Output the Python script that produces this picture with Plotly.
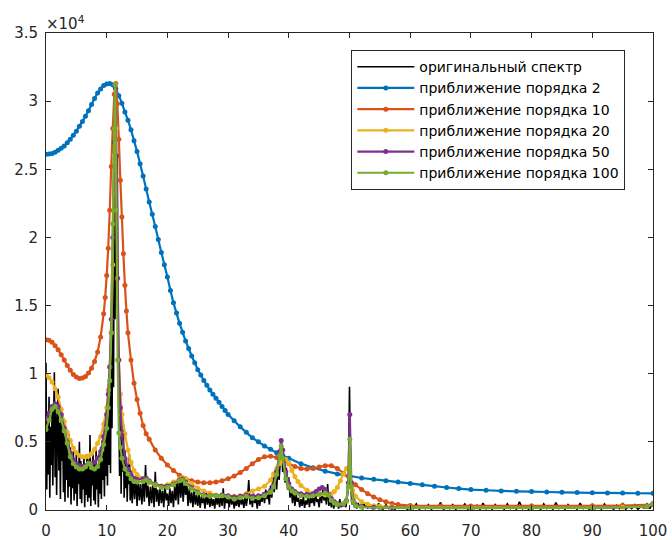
import plotly.graph_objects as go

# ---------------- data ----------------
# original spectrum: step 0.125 on [0, 14), step 0.2 on [14, 55], step 0.5 on (55, 100]
spec_x = ([i * 0.125 for i in range(112)] + [14 + 0.2 * i for i in range(206)]
          + [55.5 + 0.5 * i for i in range(90)])
spec_y = [
    # 0 .. 14, step 0.125
    10800, 1500, 7200, 2600, 8300, 900, 6100, 3300,
    7400, 1800, 6600, 10100, 2400, 7900, 1100, 5800,
    8900, 2900, 6400, 800, 7300, 3600, 5900, 1300,
    6200, 600, 5400, 2200, 4900, 900, 5600, 1700,
    4600, 400, 3800, 1600, 4300, 700, 3500, 1200,
    4100, 300, 3300, 1900, 5000, 800, 3600, 500,
    3200, 1500, 3900, 200, 3400, 1100, 4100, 600,
    3700, 900, 5500, 300, 3100, 1800, 4200, 700,
    3500, 400, 4500, 1500, 3300, 200, 4000, 1200,
    4600, 800, 5100, 2200, 4300, 1000, 5900, 2500,
    6400, 1800, 7800, 3300, 9600, 2700, 12500, 6000,
    15000, 9000, 23000, 14000, 31200, 20000, 26000, 12000,
    7000, 2500, 8200, 1200, 5600, 2800, 6300, 900,
    4400, 1600, 3800, 600, 3300, 1900, 4100, 700,
    # 14 .. 55, step 0.2
    2900, 500, 2400, 800, 2600,
    300, 2200, 700, 1900, 400,
    2100, 600, 3300, 900, 1800,
    300, 1700, 500, 2000, 200,
    2800, 600, 1500, 300, 1700,
    500, 1400, 200, 1900, 700,
    1200, 300, 1600, 500, 1400,
    200, 1800, 700, 2200, 400,
    2500, 900, 2300, 600, 2100,
    1100, 2000, 300, 1600, 500,
    1300, 200, 1500, 400, 1100,
    300, 1200, 150, 1000, 500,
    900, 100, 1300, 400, 1100,
    200, 1000, 300, 800, 100,
    1100, 400, 900, 200, 1200,
    300, 1600, 100, 1000, 500,
    800, 200, 1100, 400, 900,
    100, 700, 300, 1000, 200,
    1000, 400, 800, 150, 1100,
    300, 900, 2200, 400, 1000,
    200, 1200, 500, 900, 100,
    1100, 300, 1000, 600, 1300,
    500, 1500, 800, 1200, 400,
    1800, 900, 2400, 1300, 2600,
    1500, 3200, 2200, 3600, 4700,
    2800, 3500, 2000, 3100, 1500,
    2400, 900, 1700, 500, 1400,
    300, 1100, 600, 900, 200,
    800, 300, 1000, 150, 700,
    400, 1100, 200, 900, 500,
    1000, 300, 1200, 600, 800,
    200, 1300, 500, 1500, 700,
    1100, 400, 1900, 300, 900,
    200, 700, 100, 600, 300,
    500, 100, 800, 200, 400,
    300, 700, 200, 900, 1500,
    9050, 1800, 400, 900, 200,
    600, 100, 500, 300, 150,
    400, 50, 550, 200, 300,
    100, 450, 150, 350, 50,
    400, 100, 300, 200, 500,
    250,
    # 55.5 .. 100, step 0.5
    50, 400, 100, 300, 50, 500, 150, 350, 50, 300,
    100, 450, 50, 250, 100, 400, 50, 300, 150, 550,
    50, 300, 100, 400, 50, 250, 150, 450, 50, 300,
    100, 350, 50, 500, 100, 300, 50, 400, 150, 250,
    50, 450, 100, 300, 50, 600, 100, 300, 50, 400,
    150, 250, 50, 450, 100, 300, 50, 550, 100, 250,
    50, 400, 150, 300, 50, 500, 100, 250, 50, 400,
    100, 300, 50, 450, 150, 250, 50, 350, 100, 500,
    50, 300, 100, 400, 50, 250, 150, 450, 100, 600,
]

ord2_x = [0, 0.5, 1, 1.5, 2, 2.5, 3, 3.5, 4, 4.5, 5, 5.5, 6, 6.5, 7, 7.5, 8, 8.5, 9, 9.5,
          10, 10.5, 11, 11.5, 12, 12.5, 13, 13.5, 14, 14.5, 15, 15.5, 16, 16.5, 17, 17.5,
          18, 18.5, 19, 19.5, 20, 20.5, 21, 21.5, 22, 22.5, 23, 23.5, 24, 24.5, 25, 25.5,
          26, 26.5, 27, 27.5, 28, 28.5, 29, 29.5, 30,
          31, 32, 33, 34, 35, 36, 37, 38, 39, 40, 42, 44, 46, 48, 50, 52, 54, 56, 58, 60,
          62, 64, 66, 68, 70, 72.5, 75, 77.5, 80, 82.5, 85, 87.5, 90, 92.5, 95, 97.5, 100]
ord2_y = [26100, 26120, 26150, 26250, 26400, 26550, 26700, 26950, 27200, 27500, 27800,
          28150, 28500, 28900, 29300, 29750, 30200, 30600, 30900, 31150,
          31250, 31300, 31200, 30900, 30400, 29850, 29200, 28600, 27900, 27100, 26300,
          25400, 24500, 23550, 22600, 21700,
          20800, 19850, 18900, 18000, 17100, 16100, 15200, 14450, 13700, 13050, 12400,
          11850, 11300, 10800, 10300, 9900,
          9500, 9150, 8800, 8500, 8200, 7900, 7600, 7300, 7000,
          6550, 6100, 5700, 5300, 5000, 4700, 4450, 4200, 4000, 3800, 3400, 3100, 2850,
          2650, 2500, 2350, 2250, 2150, 2050, 1950,
          1850, 1750, 1650, 1570, 1500, 1450, 1400, 1370, 1350, 1320, 1300, 1280, 1260,
          1250, 1240, 1230, 1220]

ord10_x = [0, 0.5, 1, 1.5, 2, 2.5, 3, 3.5, 4, 4.5, 5, 5.5, 6, 6.5, 7, 7.5, 8, 8.5, 9, 9.5,
           9.75, 10, 10.25, 10.5, 10.75, 11, 11.25, 11.5, 11.75, 12, 12.25, 12.5, 12.75,
           13, 13.25, 13.5, 14, 14.5, 15, 15.5, 16, 16.5, 17, 18, 19, 20, 21, 22, 23, 24,
           25, 26, 27, 28, 29, 30, 31, 32, 33, 34, 35, 36, 37, 38, 39, 40, 41, 42, 43, 44,
           45, 46, 47, 48, 49, 50, 51, 52, 53, 54, 55, 56, 57, 58, 60, 65, 70, 80, 90, 95, 100]
ord10_y = [12500, 12450, 12300, 12050, 11750, 11400, 11000, 10600, 10250, 9950, 9750, 9650,
           9680, 9800, 10050, 10400, 10900, 11600, 12700, 14400,
           15600, 17200, 19200, 22000, 25200, 28000, 30500, 31300, 29800, 27200, 24200,
           21500, 18800, 16500, 14600, 13000,
           11000, 9300, 8100, 7100, 6200, 5600,
           5200, 4400, 3800, 3300, 2900, 2550, 2300, 2150, 2050, 2000, 2000, 2050, 2150,
           2300, 2500, 2750, 3050, 3400, 3700, 3900, 3950, 3850, 3650, 3400, 3200, 3050,
           3000, 3050, 3150, 3250, 3250, 3050, 2700, 2250, 1850, 1500, 1200, 950, 750, 600,
           480, 400,
           330, 300, 300, 300, 310, 330, 400]

ord20_x = [0, 0.5, 1, 1.5, 2, 2.5, 3, 3.5, 4, 4.5, 5, 5.5, 6, 6.5, 7, 7.5, 8, 8.5, 9, 9.5, 10,
           10.25, 10.5, 10.75, 11, 11.25, 11.4, 11.55, 11.75, 12, 12.25, 12.5,
           13, 13.5, 14, 14.5, 15, 16, 17, 18, 19, 20, 21, 22, 22.5, 23, 24, 25, 26, 27, 28,
           29, 30, 31, 32, 33, 34, 35, 36, 37, 37.5, 38, 38.5, 39, 39.5, 40, 40.5, 41, 41.5,
           42, 43, 44, 45, 46, 47, 47.5, 48, 48.5, 49, 49.5, 49.75, 50, 50.25, 50.5,
           51, 52, 53, 54, 55, 57, 60, 70, 80, 90, 95, 99, 100]
ord20_y = [9900, 9700, 9400, 8900, 8300, 7400, 6500, 5700, 5100, 4550, 4200, 4000, 3900,
           3900, 3950, 4150, 4450, 4900, 5400, 6300, 7500,
           8800, 10500, 13000, 18000, 26000, 31200, 28000, 17000, 11000, 8500, 7000,
           5600, 4400, 3500, 2900, 2600,
           2300, 2000, 1800, 1750, 1850, 2050, 2300, 2380,
           2300, 1950, 1600, 1400, 1250, 1100, 1050, 1000, 1000, 1050, 1200, 1400, 1550,
           1750, 2200,
           2650, 3050, 3400, 3650, 3700, 3450, 2900, 2450, 2100, 1800,
           1450, 1200, 1100, 1100, 1200,
           1350, 1650, 2150, 2650, 3050, 3000, 2700, 2000, 1450,
           1000, 600, 420, 320, 270,
           230, 200, 180, 180, 190, 200, 250, 450]

ord50_x = [0, 0.5, 1, 1.5, 2, 2.5, 3, 3.5, 4, 4.5, 5, 5.5, 6, 6.5, 7, 7.5, 8, 8.5, 9, 9.5, 10,
           10.25, 10.5, 10.75, 11, 11.25, 11.4, 11.6, 11.8, 12, 12.25, 12.5,
           13, 13.5, 14, 15, 16, 16.5, 17, 18, 19, 20, 21, 22, 22.5,
           23, 24, 25, 26, 27, 28, 29, 30, 31, 32, 33, 34, 35, 36, 37,
           37.5, 38, 38.5, 38.75, 39, 39.5, 40, 40.5, 41, 42, 43, 44,
           44.5, 45, 45.5, 46, 46.5, 47, 47.5, 48, 48.5, 49, 49.5, 49.8, 50.05, 50.3, 50.6, 51,
           52, 54, 57, 60, 70, 80, 90, 99, 100]
ord50_y = [6700, 7100, 7600, 7800, 7600, 7000, 6000, 5000, 4200, 3700, 3400, 3250, 3200,
           3250, 3350, 3400, 3500, 3800, 4300, 5400, 7000,
           8500, 10500, 14000, 20000, 27000, 31000, 26000, 17000, 11000, 7500, 5500,
           3800, 3000, 2600, 2250, 2300, 2350, 2150, 1900, 1750, 1750, 1900, 2200, 2280,
           2050, 1650, 1300, 1100, 1050, 1050, 1100, 1050, 950, 1000, 1100, 1000, 1050,
           1150, 1450,
           1850, 2800, 4300, 5100, 4400, 2800, 1950, 1550, 1350, 1200, 1150, 1200,
           1350, 1550, 1650, 1500, 1150, 850, 600, 450, 400, 400, 700, 2000, 7000, 2000,
           700, 400,
           250, 200, 170, 150, 140, 150, 160, 250, 450]

ord100_x = [0, 0.5, 1, 1.5, 2, 2.5, 3, 3.5, 4, 4.5, 5, 5.5, 6, 6.5, 7, 7.25, 7.5, 8, 8.5, 9,
            9.5, 10, 10.25, 10.5, 10.75, 11, 11.25, 11.4, 11.6, 11.8, 12, 12.25, 12.5,
            13, 13.5, 14, 14.5, 15, 16, 16.5, 17, 18, 19, 20, 21, 22, 22.5,
            23, 24, 25, 26, 27, 28, 29, 30, 31, 32, 33, 34, 35, 36, 37,
            37.5, 38, 38.5, 38.75, 39, 39.5, 40, 40.5, 41, 42, 43, 44, 45, 46,
            46.5, 47, 47.5, 48, 49, 49.5, 49.8, 50.05, 50.3, 50.6, 51,
            52, 55, 60, 70, 80, 90, 99, 100]
ord100_y = [5900, 6600, 7400, 7600, 7200, 6600, 5800, 4900, 3900, 3400, 3150, 3000, 3000,
            3150, 3450, 3350, 3100, 3000, 3200, 3700, 4800, 6000,
            7500, 9500, 13000, 21000, 28000, 31200, 22000, 11000, 5650, 4600, 3800,
            3000, 2650, 2300, 2100, 2050, 2100, 2200, 2050, 1850, 1650, 1650, 1850, 2150,
            2200,
            1950, 1550, 1250, 1050, 1000, 1050, 1050, 950, 800, 900, 1000, 850, 900, 1050,
            1300,
            1700, 2600, 4000, 4700, 3800, 2300, 1700, 1400, 1250, 1050, 1000, 1050, 1150,
            1250,
            1100, 700, 500, 400, 450, 650, 1700, 5200, 1700, 600, 300,
            200, 170, 160, 150, 150, 160, 250, 450]

names = ["оригинальный спектр", "приближение порядка 2", "приближение порядка 10",
         "приближение порядка 20", "приближение порядка 50", "приближение порядка 100"]
colors = ["#000000", "#0072BD", "#D95319", "#EDB120", "#7E2F8E", "#77AC30"]

x_ticks = [0, 10, 20, 30, 40, 50, 60, 70, 80, 90, 100]
y_ticks = [0, 5000, 10000, 15000, 20000, 25000, 30000, 35000]
y_ticktext = ["0", "0.5", "1", "1.5", "2", "2.5", "3", "3.5"]

# ---------------- figure ----------------
FONT = "DejaVu Sans"
AX = "#262626"

fig = go.Figure()
fig.add_trace(go.Scatter(x=spec_x, y=spec_y, mode="lines", name=names[0],
                         line=dict(color=colors[0], width=1.6, simplify=False)))
series = [(ord2_x, ord2_y), (ord10_x, ord10_y), (ord20_x, ord20_y),
          (ord50_x, ord50_y), (ord100_x, ord100_y)]
for (sx, sy), nm, c in zip(series, names[1:], colors[1:]):
    fig.add_trace(go.Scatter(x=sx, y=sy, mode="lines+markers", name=nm,
                             line=dict(color=c, width=2.2, simplify=False),
                             marker=dict(color=c, size=5)))

axis_common = dict(showgrid=False, zeroline=False, showline=True, linecolor=AX,
                   linewidth=1, mirror="ticks", ticks="inside", ticklen=5,
                   tickcolor=AX, tickwidth=1, automargin=False,
                   tickfont=dict(family=FONT, size=15, color=AX))
fig.update_xaxes(range=[0, 100], tickvals=x_ticks, ticklabelstandoff=7, **axis_common)
fig.update_yaxes(range=[0, 35000], tickvals=y_ticks, ticktext=y_ticktext,
                 ticklabelstandoff=4, **axis_common)

fig.add_annotation(xref="paper", yref="paper", x=0, y=1, xanchor="left", yanchor="bottom",
                   text="×10<sup>4</sup>", showarrow=False, xshift=-2, yshift=-2,
                   font=dict(family=FONT, size=15, color=AX))

fig.update_layout(
    width=672, height=540,
    margin=dict(l=46, r=19, t=33, b=30),
    paper_bgcolor="white", plot_bgcolor="white",
    showlegend=True,
    legend=dict(x=0.503, y=0.964, xanchor="left", yanchor="top",
                bgcolor="white", bordercolor=AX, borderwidth=1,
                font=dict(family=FONT, size=14, color="#000000"),
                itemwidth=57, tracegroupgap=0),
)

fig.write_html("out.html")
